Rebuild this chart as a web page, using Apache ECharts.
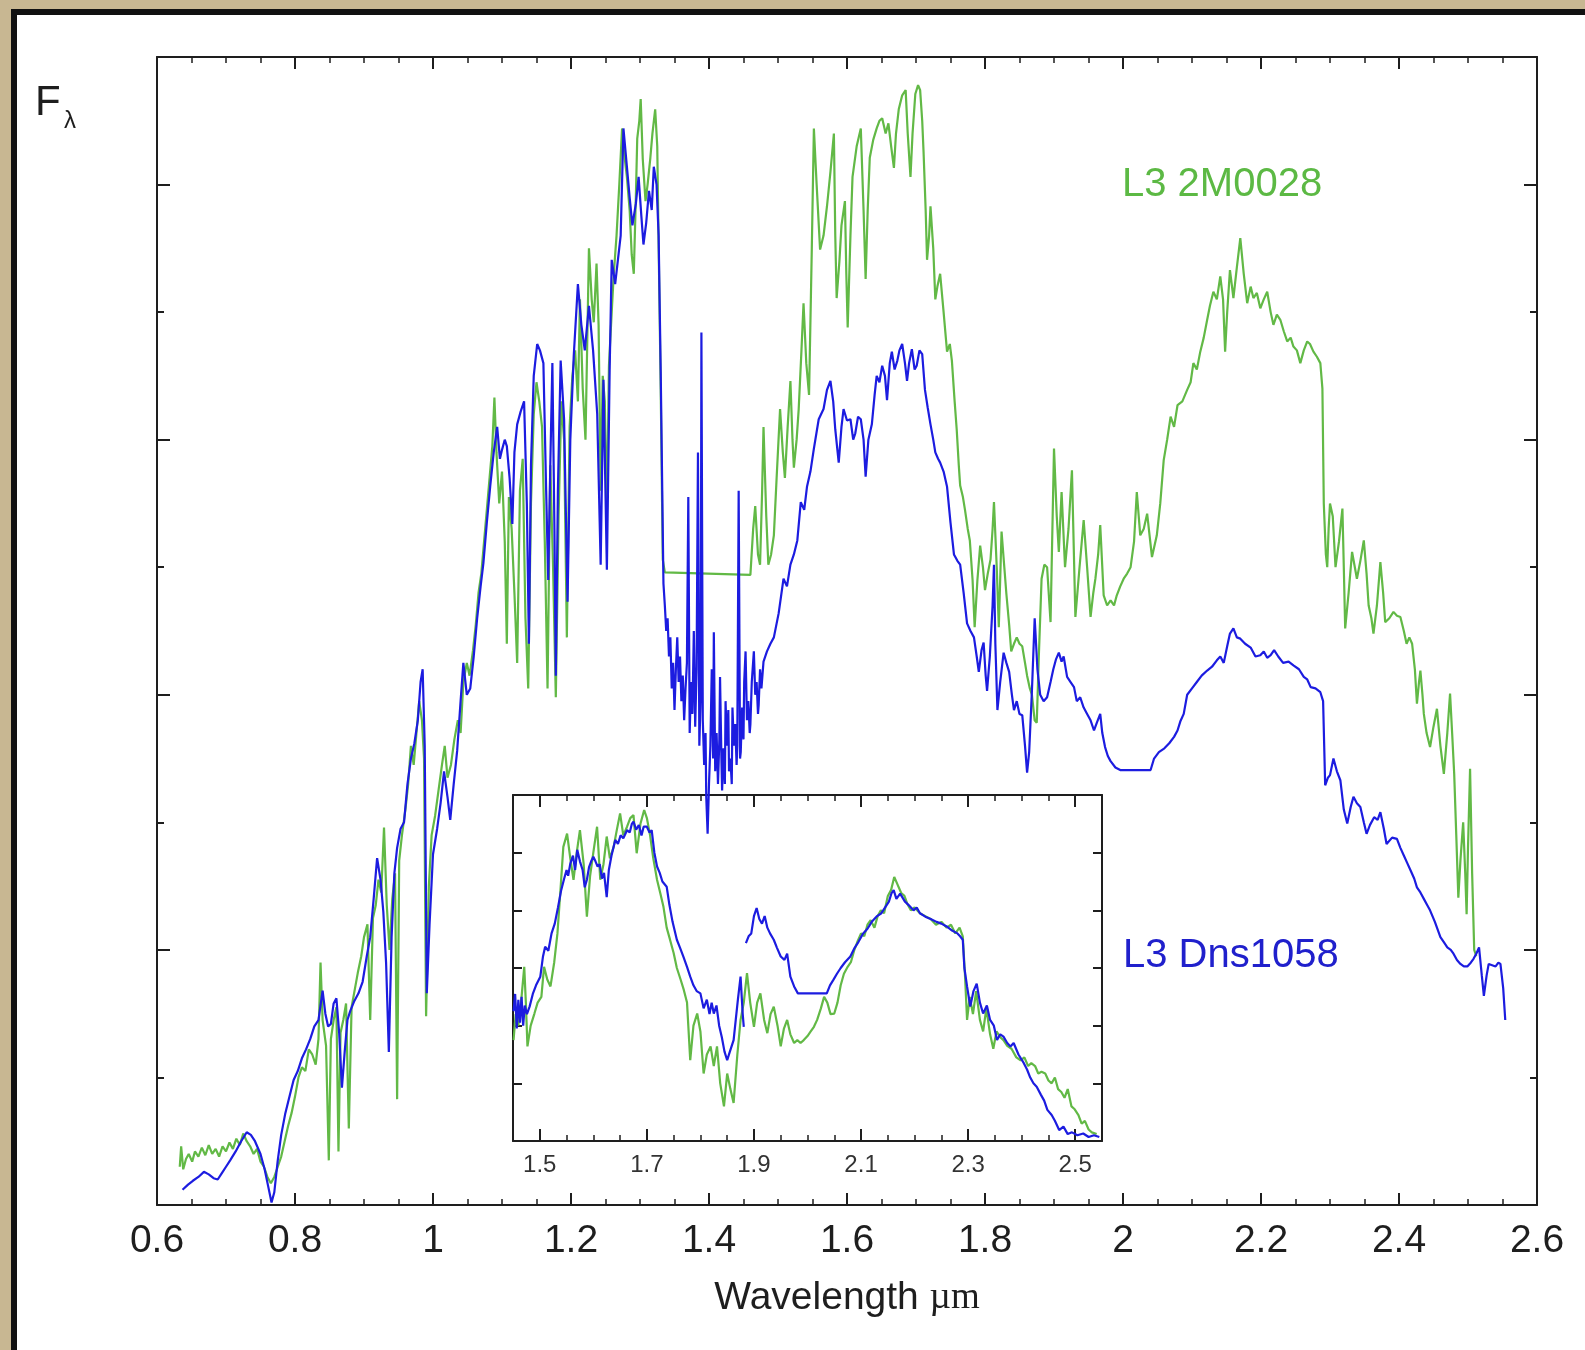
<!DOCTYPE html>
<html>
<head>
<meta charset="utf-8">
<title>L3 dwarf spectra</title>
<script src="https://cdn.jsdelivr.net/npm/echarts@6.0.0/dist/echarts.min.js"></script>
<style>
  html, body { margin: 0; padding: 0; }
  body { width: 1585px; height: 1350px; overflow: hidden; position: relative;
         background: #c8b792; }
  #panel { position: absolute; left: 11px; top: 9px; width: 1600px; height: 1400px;
           background: #ffffff; border-left: 6px solid #111; border-top: 6px solid #111; }
  #chart { position: absolute; left: 0; top: 0; width: 1585px; height: 1350px; }
</style>
</head>
<body>
<div id="panel"></div>
<div id="chart"></div>
<script>
// ---- Full spectrum, L3 Dns1058 (wavelength in micron, relative F_lambda) ----
const dnsWave = [0.637,0.645,0.652,0.660,0.668,0.675,0.682,0.688,0.694,0.700,0.706,0.714,0.722,0.730,0.736,0.742,0.750,0.756,0.761,0.766,0.770,0.775,0.780,0.786,0.792,0.798,0.804,0.810,0.816,0.822,0.828,0.834,0.840,0.844,0.848,0.852,0.856,0.860,0.864,0.868,0.872,0.876,0.880,0.886,0.892,0.898,0.904,0.909,0.914,0.919,0.924,0.928,0.932,0.936,0.940,0.944,0.948,0.953,0.958,0.963,0.968,0.973,0.978,0.982,0.985,0.988,0.991,0.995,1.000,1.006,1.011,1.016,1.021,1.025,1.030,1.035,1.040,1.044,1.049,1.054,1.059,1.064,1.069,1.073,1.078,1.083,1.088,1.093,1.097,1.100,1.104,1.107,1.111,1.115,1.118,1.122,1.127,1.132,1.136,1.139,1.142,1.146,1.151,1.155,1.160,1.164,1.167,1.170,1.173,1.176,1.178,1.181,1.185,1.190,1.195,1.199,1.204,1.210,1.215,1.220,1.226,1.232,1.238,1.243,1.247,1.252,1.256,1.259,1.264,1.272,1.276,1.281,1.285,1.289,1.294,1.298,1.302,1.305,1.309,1.313,1.317,1.320,1.324,1.327,1.330,
  1.334,1.336,1.338,1.340,1.342,1.344,1.346,1.348,1.350,1.352,1.354,1.356,1.358,1.360,1.362,1.364,1.366,1.368,1.370,1.372,1.374,1.376,1.378,1.380,1.382,1.384,1.386,1.388,1.389,1.391,1.393,1.395,1.396,1.398,1.400,1.402,1.404,1.406,1.407,1.409,1.411,1.413,1.415,1.416,1.418,1.419,1.421,1.423,1.424,1.426,1.428,1.429,1.431,1.433,1.434,1.436,1.438,1.440,1.441,1.443,1.445,1.446,1.448,1.450,1.451,1.453,1.455,1.457,1.459,1.460,1.462,1.465,1.467,1.469,1.471,1.472,1.474,1.476,1.479,
  1.484,1.489,1.494,1.501,1.508,1.513,1.518,1.523,1.528,1.533,1.538,1.542,1.547,1.552,1.559,1.566,1.571,1.576,1.580,1.583,1.588,1.592,1.595,1.600,1.605,1.609,1.612,1.616,1.620,1.624,1.627,1.631,1.636,1.640,1.643,1.647,1.651,1.655,1.658,1.662,1.665,1.669,1.673,1.676,1.680,1.684,1.687,1.690,1.694,1.698,1.701,1.705,1.709,1.713,1.717,1.721,1.725,1.728,1.732,1.735,1.740,1.745,1.750,1.755,1.760,1.764,1.769,1.774,1.779,1.784,1.788,1.791,1.795,1.798,1.801,1.803,1.807,1.811,1.813,1.815,1.818,1.822,1.827,1.831,1.835,1.839,1.842,1.846,1.850,1.854,1.858,1.861,1.864,1.868,1.872,1.876,1.880,1.885,1.890,1.895,1.899,1.903,1.907,1.911,1.914,1.919,1.924,1.929,1.933,1.938,1.943,1.948,1.953,1.958,1.962,1.967,1.970,1.974,1.978,1.982,1.989,1.996,2.040,2.045,2.052,2.060,2.067,2.074,2.079,2.083,2.088,2.093,2.100,2.107,2.114,2.122,2.129,2.136,2.141,2.146,2.151,2.155,2.160,2.165,2.170,2.177,2.185,2.192,2.199,2.204,2.209,2.214,2.219,2.225,2.232,2.240,2.247,2.255,2.262,2.267,2.272,2.279,2.286,2.290,2.293,2.297,2.300,2.305,2.310,2.315,2.320,2.325,2.330,2.334,2.339,2.344,2.349,2.353,2.358,2.364,2.369,2.373,2.378,2.382,2.390,2.397,2.402,2.407,2.412,2.417,2.422,2.426,2.431,2.436,2.441,2.445,2.452,2.460,2.465,2.470,2.475,2.479,2.484,2.489,2.494,2.499,2.504,2.508,2.512,2.516,2.520,2.523,2.527,2.530,2.535,2.540,2.544,2.547,2.551,2.554];
const dnsFlux = [0.12,0.16,0.19,0.22,0.26,0.24,0.21,0.20,0.25,0.30,0.35,0.42,0.50,0.57,0.55,0.50,0.40,0.28,0.15,0.02,0.10,0.35,0.55,0.72,0.85,0.98,1.05,1.15,1.22,1.30,1.40,1.45,1.68,1.50,1.40,1.42,1.58,1.62,1.35,0.92,1.20,1.45,1.52,1.60,1.66,1.75,1.95,2.10,2.40,2.72,2.55,2.30,1.90,1.20,2.10,2.60,2.80,2.95,3.00,3.30,3.50,3.62,3.80,4.10,4.20,3.60,1.66,2.20,2.75,2.95,3.15,3.40,3.20,3.02,3.30,3.56,3.95,4.25,4.00,4.05,4.30,4.60,4.85,5.03,5.35,5.64,5.90,6.10,5.85,5.92,6.00,5.95,5.70,5.34,5.90,6.12,6.22,6.30,5.50,4.40,5.80,6.50,6.75,6.70,6.60,5.60,4.90,5.80,6.60,5.30,4.15,5.60,6.62,6.16,4.73,6.00,6.66,7.22,6.90,6.70,7.05,6.70,6.20,5.02,6.47,4.98,6.54,7.41,7.22,7.60,8.44,8.14,7.90,7.68,7.85,8.06,7.75,7.53,7.70,7.95,7.80,8.14,8.00,7.60,6.54,
  4.87,4.70,4.50,4.60,4.30,4.45,4.05,4.25,3.88,4.20,4.45,4.10,4.30,3.95,4.15,3.80,4.05,4.25,5.55,3.70,4.10,3.85,4.50,3.75,4.20,5.90,3.60,4.00,6.84,3.80,3.45,3.70,3.20,2.91,3.30,3.60,4.20,3.50,4.49,3.40,3.70,3.30,3.65,4.14,3.50,3.25,3.58,3.30,3.95,3.60,3.88,3.40,3.50,3.30,3.90,3.60,3.77,3.45,3.60,5.60,3.50,3.55,3.90,3.65,4.10,4.34,3.80,3.95,3.70,3.77,4.10,4.34,4.00,4.10,3.85,3.92,4.20,4.05,4.26,
  4.34,4.40,4.45,4.64,4.91,4.85,5.02,5.10,5.21,5.51,5.45,5.63,5.75,5.93,6.16,6.24,6.39,6.46,6.30,6.08,5.82,6.10,6.24,6.15,6.16,6.00,6.05,6.18,6.16,6.00,5.71,6.00,6.12,6.35,6.50,6.45,6.58,6.50,6.31,6.60,6.69,6.55,6.62,6.70,6.75,6.60,6.46,6.60,6.71,6.55,6.58,6.70,6.67,6.39,6.25,6.12,6.00,5.90,5.85,5.82,5.75,5.63,5.35,5.10,5.05,5.02,4.80,4.56,4.50,4.45,4.30,4.18,4.35,4.41,4.15,4.03,4.30,4.70,5.02,4.40,3.88,4.10,4.33,4.25,4.18,4.00,3.88,3.95,3.85,3.84,3.60,3.39,3.55,4.03,4.60,4.20,4.00,3.95,3.98,4.10,4.20,4.28,4.33,4.26,4.30,4.14,4.10,4.06,3.95,3.98,3.90,3.85,3.80,3.72,3.78,3.85,3.70,3.59,3.52,3.48,3.43,3.41,3.41,3.50,3.55,3.58,3.62,3.67,3.72,3.79,3.85,4.00,4.05,4.10,4.15,4.19,4.22,4.27,4.30,4.25,4.38,4.48,4.52,4.45,4.44,4.40,4.37,4.30,4.31,4.34,4.29,4.31,4.35,4.30,4.25,4.26,4.23,4.20,4.14,4.12,4.06,4.05,4.02,3.95,3.29,3.35,3.37,3.50,3.40,3.33,3.10,2.99,3.12,3.20,3.15,3.12,3.00,2.91,2.98,3.04,3.02,3.08,2.95,2.83,2.88,2.87,2.80,2.74,2.68,2.62,2.56,2.49,2.45,2.40,2.35,2.31,2.22,2.10,2.06,2.02,2.00,1.97,1.92,1.89,1.87,1.87,1.90,1.93,1.97,2.02,1.80,1.64,1.80,1.89,1.88,1.87,1.90,1.89,1.70,1.45];

// ---- Full spectrum, L3 2M0028 ----
const m28Wave = [0.633,0.635,0.638,0.642,0.646,0.651,0.655,0.660,0.665,0.670,0.675,0.680,0.685,0.690,0.695,0.700,0.705,0.710,0.715,0.720,0.725,0.730,0.735,0.740,0.745,0.750,0.755,0.760,0.765,0.770,0.775,0.780,0.785,0.790,0.795,0.800,0.805,0.810,0.815,0.820,0.825,0.830,0.834,0.837,0.840,0.845,0.849,0.852,0.856,0.860,0.863,0.866,0.870,0.874,0.878,0.882,0.887,0.891,0.896,0.900,0.905,0.909,0.913,0.917,0.921,0.925,0.929,0.933,0.937,0.941,0.945,0.948,0.951,0.955,0.960,0.964,0.968,0.972,0.976,0.980,0.984,0.987,0.990,0.994,0.998,1.003,1.008,1.013,1.017,1.021,1.026,1.031,1.036,1.040,1.044,1.049,1.053,1.058,1.062,1.066,1.070,1.074,1.078,1.082,1.086,1.089,1.092,1.096,1.100,1.104,1.107,1.110,1.114,1.118,1.122,1.126,1.130,1.134,1.138,1.142,1.146,1.150,1.154,1.158,1.162,1.166,1.170,1.174,1.178,1.182,1.186,1.190,1.194,1.198,1.202,1.206,1.210,1.213,1.217,1.221,1.226,1.230,1.233,1.237,1.240,1.243,1.246,1.249,1.252,1.255,1.259,1.262,1.266,1.270,1.274,1.278,1.281,1.285,1.288,1.291,1.294,1.296,1.299,1.301,1.304,1.308,1.311,1.315,1.318,1.322,1.325,1.327,1.330,1.333,1.336,1.460,1.464,1.467,1.471,1.474,1.477,1.479,1.483,1.486,1.490,1.494,1.498,1.503,1.507,1.510,1.514,1.518,1.521,1.523,1.527,1.530,1.534,1.537,1.541,1.545,1.549,1.552,1.556,1.561,1.566,1.571,1.576,1.581,1.583,1.585,1.589,1.592,1.597,1.599,1.601,1.605,1.608,1.614,1.620,1.624,1.627,1.630,1.633,1.638,1.643,1.647,1.651,1.656,1.660,1.664,1.668,1.671,1.675,1.680,1.685,1.688,1.692,1.695,1.699,1.703,1.706,1.709,1.711,1.714,1.716,1.719,1.721,1.725,1.728,1.731,1.735,1.740,1.745,1.749,1.752,1.756,1.759,1.762,1.764,1.768,1.771,1.775,1.778,1.782,1.785,1.789,1.793,1.797,1.800,1.804,1.808,1.811,1.813,1.817,1.820,1.822,1.824,1.828,1.831,1.835,1.838,1.842,1.846,1.850,1.854,1.858,1.861,1.865,1.868,1.872,1.875,1.878,1.882,1.886,1.890,1.895,1.900,1.904,1.907,1.911,1.916,1.921,1.926,1.931,1.937,1.943,1.948,1.953,1.957,1.960,1.964,1.967,1.972,1.977,1.982,1.987,1.991,1.996,2.001,2.006,2.011,2.016,2.020,2.025,2.030,2.035,2.042,2.049,2.054,2.059,2.064,2.069,2.074,2.079,2.086,2.093,2.098,2.102,2.107,2.112,2.117,2.122,2.126,2.131,2.136,2.141,2.145,2.148,2.151,2.155,2.158,2.160,2.165,2.170,2.175,2.180,2.185,2.189,2.194,2.199,2.204,2.209,2.214,2.218,2.223,2.228,2.233,2.238,2.243,2.247,2.252,2.257,2.262,2.267,2.271,2.276,2.281,2.286,2.289,2.291,2.294,2.296,2.298,2.300,2.304,2.308,2.313,2.318,2.320,2.322,2.327,2.332,2.336,2.339,2.344,2.349,2.353,2.356,2.360,2.363,2.368,2.373,2.377,2.380,2.386,2.392,2.397,2.402,2.407,2.411,2.415,2.419,2.423,2.426,2.429,2.431,2.434,2.436,2.440,2.445,2.450,2.455,2.460,2.465,2.470,2.474,2.477,2.480,2.483,2.486,2.489,2.493,2.496,2.498,2.500,2.503,2.506,2.509,2.512];
const m28Flux = [0.30,0.46,0.28,0.36,0.40,0.34,0.42,0.38,0.45,0.39,0.47,0.40,0.44,0.38,0.46,0.42,0.49,0.44,0.52,0.47,0.56,0.50,0.46,0.40,0.44,0.34,0.30,0.22,0.17,0.22,0.30,0.38,0.50,0.62,0.72,0.85,1.00,1.08,1.05,1.22,1.18,1.10,1.30,1.90,1.45,1.25,0.35,1.30,1.45,1.55,0.42,1.35,1.45,1.58,0.60,1.55,1.70,1.82,1.95,2.10,2.20,1.45,2.25,2.35,2.55,2.45,2.96,2.35,2.00,2.40,2.60,0.83,2.70,2.90,3.10,3.30,3.60,3.45,3.70,3.95,3.80,3.50,1.48,2.50,2.90,3.05,3.25,3.45,3.60,3.35,3.45,3.65,3.80,3.70,4.10,4.25,4.15,4.35,4.55,4.80,4.95,5.20,5.45,5.70,5.95,6.33,5.90,5.50,5.75,5.20,4.40,5.55,5.30,4.80,4.25,5.60,5.85,4.60,4.05,5.50,6.20,6.45,6.30,6.10,5.20,4.05,5.80,5.00,3.98,5.40,6.30,6.00,4.45,6.10,6.50,6.70,6.30,7.10,6.40,6.00,7.50,7.10,6.92,7.38,6.90,5.60,6.50,6.30,5.40,6.58,7.00,7.30,7.60,8.00,8.44,8.20,8.06,7.80,7.45,7.30,7.90,8.36,8.50,8.67,8.20,7.87,8.00,8.21,8.40,8.59,8.30,7.53,6.40,5.06,4.96,4.94,5.30,5.48,5.10,5.02,5.60,6.10,5.40,5.02,5.10,5.25,5.70,6.24,5.90,5.70,6.10,6.46,6.00,5.78,6.00,6.24,6.70,7.07,6.60,6.35,7.50,8.44,8.00,7.49,7.60,7.83,8.10,8.40,7.60,7.11,7.40,7.68,7.87,7.30,6.88,7.60,8.06,8.30,8.44,7.80,7.26,7.80,8.21,8.35,8.44,8.50,8.52,8.40,8.48,8.30,8.13,8.40,8.59,8.70,8.74,8.40,8.06,8.40,8.71,8.78,8.74,8.50,8.25,7.80,7.41,7.60,7.83,7.50,7.10,7.20,7.30,7.00,6.69,6.75,6.62,6.30,6.08,5.80,5.64,5.55,5.45,5.30,5.21,4.90,4.53,4.90,5.17,5.00,4.82,4.95,5.06,5.30,5.51,5.00,4.53,4.90,5.28,5.00,4.79,4.55,4.34,4.40,4.45,4.40,4.38,4.25,4.15,4.05,4.00,3.80,3.78,4.30,4.91,5.02,5.00,4.57,5.93,5.40,5.12,5.59,5.00,5.30,5.76,4.61,5.00,5.37,5.00,4.61,4.80,4.91,5.10,5.33,4.78,4.70,4.74,4.70,4.78,4.85,4.91,4.95,5.00,5.20,5.59,5.25,5.30,5.42,5.08,5.25,5.50,5.84,6.00,6.18,6.10,6.27,6.30,6.39,6.45,6.60,6.55,6.69,6.80,6.94,7.05,7.16,7.10,7.28,7.10,6.69,7.00,7.33,7.20,7.11,7.35,7.58,7.30,7.07,7.20,7.11,7.15,7.03,7.10,7.16,7.00,6.90,6.98,6.94,6.85,6.77,6.80,6.73,6.70,6.60,6.70,6.77,6.75,6.69,6.65,6.60,6.40,5.50,5.10,5.00,5.30,5.50,5.40,5.00,5.20,5.46,5.00,4.52,4.80,5.12,5.00,4.91,5.05,5.21,4.95,4.70,4.60,4.48,4.70,5.04,4.80,4.57,4.60,4.65,4.62,4.61,4.50,4.40,4.45,4.40,4.20,3.93,4.10,4.19,4.00,3.85,3.70,3.59,3.75,3.89,3.60,3.38,3.70,4.01,3.70,3.38,2.90,2.41,2.70,3.00,2.60,2.28,2.80,3.42,2.60,2.00,1.95];

// ---- Inset: 1.45-2.55 micron, both objects scaled to one another ----
const insetDnsWave = [1.451,1.454,1.457,1.460,1.463,1.466,1.469,1.472,1.476,1.481,1.487,1.493,1.501,1.506,1.510,1.516,1.522,1.528,1.534,1.540,1.545,1.550,1.553,1.557,1.562,1.566,1.570,1.575,1.580,1.584,1.588,1.592,1.596,1.600,1.604,1.608,1.612,1.616,1.620,1.625,1.629,1.634,1.641,1.646,1.651,1.656,1.663,1.668,1.672,1.675,1.680,1.685,1.690,1.694,1.700,1.705,1.709,1.714,1.719,1.724,1.729,1.737,1.742,1.748,1.756,1.762,1.768,1.775,1.781,1.787,1.793,1.800,1.806,1.812,1.817,1.821,1.825,1.830,1.835,1.840,1.845,1.850,1.855,1.862,1.866,1.870,1.875,1.879,1.881,1.883,1.885,1.890,1.895,1.900,1.905,1.910,1.915,1.920,1.925,1.930,1.937,1.943,1.950,1.957,1.962,1.968,1.975,1.982,2.036,2.042,2.048,2.055,2.062,2.070,2.080,2.088,2.095,2.104,2.112,2.120,2.130,2.138,2.145,2.152,2.157,2.161,2.166,2.173,2.182,2.188,2.198,2.204,2.210,2.220,2.230,2.241,2.250,2.260,2.270,2.280,2.285,2.290,2.293,2.298,2.304,2.310,2.316,2.322,2.328,2.335,2.341,2.348,2.354,2.360,2.366,2.373,2.379,2.385,2.394,2.404,2.410,2.416,2.422,2.428,2.436,2.442,2.448,2.456,2.462,2.470,2.478,2.486,2.494,2.504,2.515,2.525,2.535,2.545];
const insetDnsFlux = [2.25,2.55,1.95,2.45,2.05,2.50,2.00,2.35,2.20,2.33,2.55,2.70,2.85,3.20,3.37,3.30,3.60,3.77,4.05,4.35,4.53,4.70,4.60,4.81,4.95,4.70,5.05,4.85,4.70,4.40,4.53,4.75,4.85,4.93,4.85,4.76,4.80,4.55,4.65,4.23,4.70,4.95,5.22,5.15,5.30,5.25,5.39,5.35,5.50,5.54,5.40,5.48,5.30,5.45,5.45,5.35,5.39,5.00,4.76,4.65,4.50,4.41,4.10,3.80,3.49,3.35,3.20,3.02,2.85,2.70,2.60,2.56,2.30,2.45,2.20,2.40,2.21,2.35,2.00,1.80,1.55,1.40,1.55,1.75,2.10,2.45,2.85,2.20,1.98,null,3.43,3.55,3.60,3.90,4.04,3.85,3.77,3.90,3.70,3.60,3.49,3.35,3.20,3.14,3.25,2.85,2.68,2.56,2.56,2.70,2.79,2.90,3.00,3.10,3.20,3.35,3.45,3.60,3.68,3.80,3.90,3.95,4.05,4.15,4.30,4.35,4.20,4.29,4.15,4.10,4.00,4.05,3.95,3.89,3.85,3.80,3.77,3.72,3.65,3.60,3.55,3.49,3.00,2.68,2.33,2.60,2.73,2.40,2.21,2.35,2.10,2.00,1.75,1.85,1.81,1.70,1.64,1.70,1.50,1.35,1.24,1.10,1.00,0.94,0.80,0.70,0.54,0.45,0.35,0.19,0.25,0.12,0.15,0.10,0.13,0.07,0.10,0.07];
const insetM28Wave = [1.451,1.455,1.460,1.466,1.471,1.474,1.477,1.483,1.490,1.496,1.503,1.508,1.514,1.520,1.527,1.533,1.539,1.544,1.551,1.557,1.563,1.569,1.575,1.582,1.588,1.594,1.600,1.607,1.613,1.619,1.625,1.631,1.638,1.644,1.650,1.656,1.663,1.669,1.675,1.681,1.688,1.695,1.700,1.706,1.712,1.719,1.725,1.731,1.737,1.743,1.750,1.756,1.763,1.769,1.775,1.781,1.787,1.794,1.800,1.806,1.812,1.819,1.825,1.831,1.837,1.844,1.850,1.856,1.862,1.869,1.875,1.881,1.887,1.893,1.900,1.906,1.912,1.919,1.925,1.931,1.937,1.944,1.950,1.956,1.962,1.968,1.975,1.981,1.987,1.993,2.000,2.006,2.012,2.018,2.025,2.031,2.037,2.043,2.050,2.056,2.062,2.068,2.075,2.081,2.087,2.093,2.100,2.106,2.112,2.118,2.125,2.131,2.137,2.143,2.150,2.156,2.162,2.168,2.175,2.181,2.187,2.193,2.200,2.210,2.220,2.230,2.240,2.250,2.260,2.268,2.276,2.284,2.290,2.294,2.298,2.303,2.309,2.315,2.322,2.328,2.334,2.341,2.347,2.353,2.360,2.366,2.373,2.381,2.390,2.398,2.405,2.412,2.418,2.425,2.431,2.437,2.444,2.450,2.456,2.462,2.468,2.474,2.480,2.486,2.493,2.499,2.506,2.512,2.518,2.525,2.531,2.540];
const insetM28Flux = [1.75,2.20,2.00,2.50,3.02,2.40,1.64,2.00,2.21,2.40,2.50,3.02,2.80,2.68,3.10,3.60,4.40,5.10,5.33,4.90,4.53,5.00,5.39,4.80,3.89,4.60,5.00,5.45,4.53,4.80,5.28,4.90,5.10,5.40,5.68,5.30,5.45,5.60,5.65,4.99,5.50,5.74,5.60,5.30,4.90,4.53,4.30,4.06,3.70,3.50,3.26,3.00,2.80,2.62,2.40,1.40,2.00,2.21,1.90,1.17,1.50,1.64,1.30,1.64,1.00,0.60,1.17,0.90,0.66,1.50,2.10,2.40,2.91,2.40,1.98,2.40,2.56,2.10,1.87,2.20,2.33,2.00,1.64,1.95,2.10,1.85,1.70,1.75,1.70,1.75,1.82,1.90,1.98,2.10,2.30,2.50,2.40,2.20,2.21,2.40,2.70,2.90,3.02,3.10,3.30,3.45,3.60,3.55,3.75,3.83,3.70,3.90,4.00,3.95,4.25,4.35,4.58,4.45,4.30,4.25,4.10,4.00,4.05,3.95,3.90,3.85,3.75,3.80,3.70,3.75,3.60,3.70,3.55,2.90,2.10,2.50,2.20,2.60,2.10,1.90,2.30,1.85,1.60,1.90,1.80,1.75,1.65,1.60,1.45,1.40,1.45,1.30,1.35,1.30,1.17,1.20,1.17,1.05,1.00,1.10,0.90,0.85,0.75,0.90,0.60,0.55,0.45,0.30,0.35,0.20,0.15,0.12,0.10];

// ---- Axis tick positions ----
const mainYMajor = [0, 2, 4, 6, 8];
const mainYMinor = [1, 3, 5, 7];
const insetXMajor = [1.5, 1.7, 1.9, 2.1, 2.3, 2.5];
const insetXMinor = [1.55, 1.6, 1.65, 1.75, 1.8, 1.85, 1.95, 2.0, 2.05, 2.15, 2.2, 2.25, 2.35, 2.4, 2.45];

const pairs = (xs, ys) => xs.map((x, i) => [x, ys[i] === null ? '-' : ys[i]]);

const GREEN = '#62b946';
const BLUE = '#1c1ce0';
const INK = '#1e1e1e';
const SANS = 'Liberation Sans, Arial, sans-serif';

const lineAx = { onZero: false, lineStyle: { color: INK, width: 2 } };
const noLine = { show: false, onZero: false };

function valueX(extra) {
  return Object.assign({
    type: 'value', splitLine: { show: false },
    axisLine: lineAx
  }, extra);
}
function valueY(extra) {
  return Object.assign({
    type: 'value', splitLine: { show: false },
    axisLine: lineAx, axisLabel: { show: false }
  }, extra);
}
const tick = (len, w) => ({ inside: true, length: len, lineStyle: { color: INK, width: w } });
const minorX = { show: true, splitNumber: 4, length: 6, lineStyle: { color: INK, width: 1.5 } };

const chart = echarts.init(document.getElementById('chart'), null, { renderer: 'canvas' });

chart.setOption({
  animation: false,
  backgroundColor: 'transparent',
  grid: [
    { left: 157, top: 57, width: 1380, height: 1148, containLabel: false },
    { left: 513, top: 795, width: 589, height: 346, containLabel: false }
  ],
  xAxis: [
    valueX({
      gridIndex: 0, position: 'bottom', min: 0.6, max: 2.6, interval: 0.2,
      axisTick: tick(12, 2), minorTick: minorX,
      axisLabel: { fontSize: 39, color: INK, margin: 17, fontFamily: SANS },
      name: 'Wavelength {u|µm}', nameLocation: 'middle', nameGap: 74,
      nameTextStyle: { fontSize: 39, color: INK, fontFamily: SANS,
        rich: { u: { fontSize: 37, color: INK, fontFamily: 'Liberation Serif, Times New Roman, serif' } } }
    }),
    valueX({
      gridIndex: 0, position: 'top', min: 0.6, max: 2.6, interval: 0.2,
      axisTick: tick(12, 2), minorTick: minorX,
      axisLabel: { show: false }
    }),
    valueX({
      gridIndex: 1, position: 'bottom', min: 1.45, max: 2.55,
      axisTick: Object.assign(tick(12, 2), { customValues: insetXMajor }),
      axisLabel: { customValues: insetXMajor, fontSize: 24, color: '#333', margin: 12, fontFamily: SANS,
        formatter: v => v.toFixed(1) }
    }),
    valueX({
      gridIndex: 1, position: 'bottom', offset: 0, min: 1.45, max: 2.55,
      axisLine: noLine,
      axisTick: Object.assign(tick(6, 1.5), { customValues: insetXMinor }),
      axisLabel: { show: false }
    }),
    valueX({
      gridIndex: 1, position: 'top', min: 1.45, max: 2.55,
      axisTick: Object.assign(tick(12, 2), { customValues: insetXMajor }),
      axisLabel: { show: false }
    }),
    valueX({
      gridIndex: 1, position: 'top', offset: 0, min: 1.45, max: 2.55,
      axisLine: noLine,
      axisTick: Object.assign(tick(6, 1.5), { customValues: insetXMinor }),
      axisLabel: { show: false }
    })
  ],
  yAxis: [
    valueY({ gridIndex: 0, position: 'left', min: 0, max: 9,
      axisTick: Object.assign(tick(13, 2), { customValues: mainYMajor }) }),
    valueY({ gridIndex: 0, position: 'left', offset: 0, min: 0, max: 9, axisLine: noLine,
      axisTick: Object.assign(tick(7, 2), { customValues: mainYMinor }) }),
    valueY({ gridIndex: 0, position: 'right', min: 0, max: 9,
      axisTick: Object.assign(tick(13, 2), { customValues: mainYMajor }) }),
    valueY({ gridIndex: 0, position: 'right', offset: 0, min: 0, max: 9, axisLine: noLine,
      axisTick: Object.assign(tick(7, 2), { customValues: mainYMinor }) }),
    valueY({ gridIndex: 1, position: 'left', min: 0, max: 6, interval: 1, axisTick: tick(9, 2) }),
    valueY({ gridIndex: 1, position: 'right', min: 0, max: 6, interval: 1, axisTick: tick(9, 2) })
  ],
  series: [
    { name: 'L3 2M0028', type: 'line', xAxisIndex: 0, yAxisIndex: 0, z: 3,
      data: pairs(m28Wave, m28Flux), showSymbol: false, connectNulls: false,
      lineStyle: { color: GREEN, width: 2.2 }, itemStyle: { color: GREEN } },
    { name: 'L3 Dns1058', type: 'line', xAxisIndex: 0, yAxisIndex: 0, z: 4,
      data: pairs(dnsWave, dnsFlux), showSymbol: false, connectNulls: false,
      lineStyle: { color: BLUE, width: 2.2 }, itemStyle: { color: BLUE } },
    { name: 'L3 2M0028 inset', type: 'line', xAxisIndex: 2, yAxisIndex: 4, z: 3,
      data: pairs(insetM28Wave, insetM28Flux), showSymbol: false, connectNulls: false,
      lineStyle: { color: GREEN, width: 2.2 }, itemStyle: { color: GREEN } },
    { name: 'L3 Dns1058 inset', type: 'line', xAxisIndex: 2, yAxisIndex: 4, z: 4,
      data: pairs(insetDnsWave, insetDnsFlux), showSymbol: false, connectNulls: false,
      lineStyle: { color: BLUE, width: 2.2 }, itemStyle: { color: BLUE } }
  ],
  graphic: [
    { type: 'text', left: 35, top: 82, z: 10,
      style: { text: 'F', fontSize: 42, fill: INK, fontFamily: SANS } },
    { type: 'text', left: 64, top: 109, z: 10,
      style: { text: 'λ', fontSize: 24, fill: INK, fontFamily: SANS } },
    { type: 'text', left: 1122, top: 165, z: 10,
      style: { text: 'L3 2M0028', fontSize: 40, fill: '#5cb944', fontFamily: SANS } },
    { type: 'text', left: 1123, top: 936, z: 10,
      style: { text: 'L3 Dns1058', fontSize: 40, fill: '#2020cc', fontFamily: SANS } }
  ]
});
</script>
</body>
</html>
